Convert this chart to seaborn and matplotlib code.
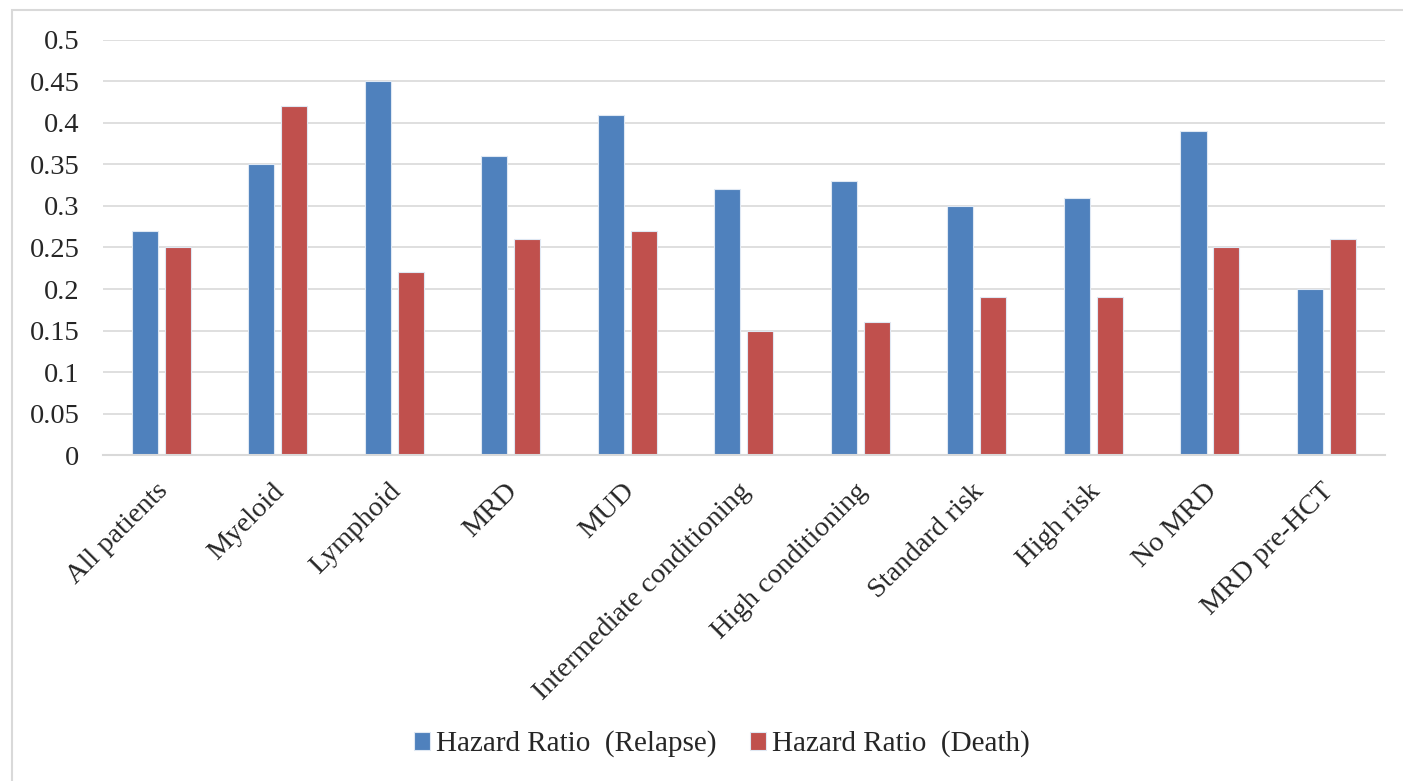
import matplotlib
matplotlib.use("Agg")
import matplotlib.pyplot as plt
import matplotlib.patches as mpatches
import matplotlib.transforms as mtransforms
import seaborn as sns
import pandas as pd

categories = ["All patients", "Myeloid", "Lymphoid", "MRD", "MUD",
              "Intermediate conditioning", "High conditioning",
              "Standard risk", "High risk", "No MRD", "MRD pre-HCT"]
relapse_hr = [0.27, 0.35, 0.45, 0.36, 0.41, 0.32, 0.33, 0.30, 0.31, 0.39, 0.20]
death_hr = [0.25, 0.42, 0.22, 0.26, 0.27, 0.15, 0.16, 0.19, 0.19, 0.25, 0.26]
series_names = ["Hazard Ratio  (Relapse)", "Hazard Ratio  (Death)"]
y_ticks = [0, 0.05, 0.1, 0.15, 0.2, 0.25, 0.3, 0.35, 0.4, 0.45, 0.5]
y_tick_labels = ["0", "0.05", "0.1", "0.15", "0.2", "0.25", "0.3", "0.35",
                 "0.4", "0.45", "0.5"]

df = pd.DataFrame({
    "group": categories * 2,
    "series": [series_names[0]] * len(categories) + [series_names[1]] * len(categories),
    "value": relapse_hr + death_hr,
})

sns.set_theme(style="white")
plt.rcParams["font.family"] = ["Liberation Serif", "DejaVu Serif"]

fig = plt.figure(figsize=(14.03, 7.81), dpi=100)
ax = fig.add_axes([0.0734, 0.4174, 0.9136, 0.5314])

palette = {series_names[0]: "#4F81BD", series_names[1]: "#C0504D"}
sns.barplot(data=df, x="group", y="value", hue="series", palette=palette,
            width=0.566, gap=0.21, saturation=1, ax=ax,
            edgecolor="#dfe8f3", linewidth=0.8, legend=True)

ax.set_ylim(0, 0.5)
ax.set_xlim(-0.5, len(categories) - 0.5)
ax.set_yticks(y_ticks)
ax.set_yticklabels(y_tick_labels, fontsize=20.5)
ax.set_xticks(range(len(categories)))
ax.set_xticklabels(categories, rotation=45, ha="right", rotation_mode="anchor",
                   fontsize=20.5)
ax.tick_params(axis="x", length=0, pad=17)
ax.tick_params(axis="y", length=0, pad=17)
ax.set_xlabel("")
ax.set_ylabel("")

# nudge the slanted category labels a little to the left
shift = mtransforms.ScaledTranslation(-6 / 100, 0, fig.dpi_scale_trans)
for lbl in ax.get_xticklabels():
    lbl.set_transform(lbl.get_transform() + shift)

ax.yaxis.grid(True, color="#d9d9d9", linewidth=1.2)
ax.set_axisbelow(True)
for side in ["left", "right", "top"]:
    ax.spines[side].set_visible(False)
ax.spines["bottom"].set_color("#d9d9d9")
ax.spines["bottom"].set_linewidth(1.5)

handles, labels = ax.get_legend_handles_labels()
ax.legend_.remove()
fig.legend(handles, labels, loc="center", bbox_to_anchor=(0.5145, 0.0474),
           ncol=2, frameon=False, fontsize=21, handlelength=0.55,
           handleheight=0.55, handletextpad=0.2, columnspacing=1.15)

# chart-area frame
frame = mpatches.Rectangle((12 / 1403, -0.1), 1.2, 1 - 10 / 781 + 0.1,
                           transform=fig.transFigure, fill=False,
                           edgecolor="#d9d9d9", linewidth=1.5)
fig.patches.append(frame)

fig.savefig("out.png", dpi=100)
